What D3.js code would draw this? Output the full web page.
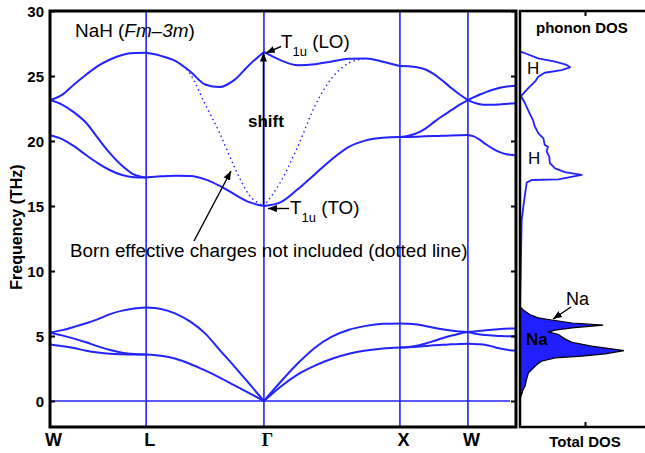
<!DOCTYPE html>
<html>
<head>
<meta charset="utf-8">
<script src="https://cdn.jsdelivr.net/npm/d3@7"></script>
<style>
  html, body { margin: 0; padding: 0; background: #fff; }
  svg { display: block; }
  text { font-family: "Liberation Sans", Arial, Helvetica, sans-serif; fill: #000; }
</style>
</head>
<body>
<svg id="chart" width="645" height="453"></svg>
<script>
// High-symmetry path W-L-Γ-X-W-K (distance along the path, units of 2π/a)
const kNames = ["W", "L", "Γ", "X", "W"];
const kTicks = [0, 0.7071, 1.5731, 2.5731, 3.0731];
const kEnd = 3.4267;
const freqTicks = [0, 5, 10, 15, 20, 25, 30];

// Fractional sampling positions along every path segment
const segT = [0, 0.125, 0.25, 0.375, 0.5, 0.625, 0.75, 0.875, 1];

// Phonon frequencies (THz) per segment, one row per branch
const bandsWL = [
  [23.15, 23.55, 24.35, 25.1, 25.78, 26.27, 26.62, 26.76, 26.78],
  [23.15, 22.8, 22.2, 21.4, 20.2, 19.05, 18.1, 17.42, 17.2],
  [20.45, 20.15, 19.6, 18.92, 18.28, 17.75, 17.38, 17.22, 17.2],
  [5.26, 5.45, 5.7, 5.98, 6.3, 6.68, 6.95, 7.12, 7.19],
  [5.26, 5.05, 4.8, 4.52, 4.2, 3.92, 3.72, 3.62, 3.58],
  [4.35, 4.22, 4.07, 3.87, 3.73, 3.64, 3.6, 3.58, 3.58]
];
const bandsLG = [
  [26.78, 26.55, 26.15, 25.35, 24.35, 24.15, 24.7, 25.85, 26.85],
  [17.2, 17.28, 17.33, 17.3, 17.05, 16.55, 15.9, 15.3, 15.0],
  [7.19, 7.08, 6.72, 6.1, 5.2, 3.92, 2.65, 1.33, 0],
  [3.58, 3.48, 3.25, 2.85, 2.35, 1.8, 1.2, 0.6, 0]
];
const bandsGX = [
  [26.85, 26.2, 25.82, 25.9, 26.12, 26.32, 26.35, 26.1, 25.77],
  [15.0, 15.3, 16.3, 17.45, 18.6, 19.55, 20.05, 20.25, 20.3],
  [0, 1.5, 2.9, 4.1, 4.95, 5.48, 5.78, 5.94, 5.97],
  [0, 1.12, 2.05, 2.72, 3.25, 3.63, 3.88, 4.04, 4.12]
];
const bandsXW = [
  [25.77, 25.75, 25.68, 25.5, 25.15, 24.65, 24.1, 23.6, 23.15],
  [20.3, 20.4, 20.6, 20.95, 21.45, 21.92, 22.35, 22.78, 23.15],
  [20.3, 20.31, 20.33, 20.36, 20.38, 20.4, 20.42, 20.44, 20.46],
  [5.97, 5.95, 5.88, 5.77, 5.64, 5.52, 5.42, 5.35, 5.3],
  [4.12, 4.15, 4.25, 4.42, 4.62, 4.83, 5.02, 5.18, 5.3],
  [4.12, 4.14, 4.18, 4.23, 4.28, 4.32, 4.36, 4.39, 4.4]
];
const bandsWK = [
  [23.15, 23.38, 23.58, 23.76, 23.92, 24.06, 24.16, 24.22, 24.25],
  [23.15, 22.95, 22.83, 22.78, 22.78, 22.8, 22.84, 22.88, 22.9],
  [20.46, 20.35, 20.08, 19.75, 19.45, 19.2, 19.03, 18.94, 18.9],
  [5.3, 5.35, 5.4, 5.44, 5.48, 5.52, 5.55, 5.57, 5.58],
  [5.3, 5.2, 5.12, 5.07, 5.03, 5.0, 4.99, 4.98, 4.98],
  [4.4, 4.39, 4.36, 4.3, 4.2, 4.08, 3.98, 3.91, 3.88]
];

// LO branch without Born effective charges (no LO-TO splitting)
const dottedLG = [null, null, 26.15, 25.15, 22.85, 20.6, 18.0, 15.85, 15.0];
const dottedGX = [15.0, 16.9, 19.6, 22.7, 24.85, 26.0, 26.35, null, null];

// Total phonon DOS (arbitrary units): H-dominated optical region
const dosHFreq = [7.3, 13.9, 14.9, 15.9, 16.8, 17.0, 17.05, 17.4, 17.6, 17.9, 18.3, 18.8,
  19.2, 19.56, 19.7, 20.2, 20.6, 21.1, 21.6, 22.1, 22.9, 23.46, 23.8, 24.18, 24.56,
  24.95, 25.25, 25.46, 25.67, 25.85, 26.1, 26.36, 26.75, 26.9];
const dosHVal = [0, 0.026, 0.05, 0.077, 0.103, 0.18, 0.59, 0.95, 0.69, 0.54, 0.46, 0.45,
  0.41, 0.43, 0.38, 0.36, 0.28, 0.23, 0.2, 0.15, 0.077, 0.015, 0.077, 0.15, 0.23,
  0.28, 0.38, 0.64, 0.77, 0.72, 0.54, 0.28, 0.077, 0];
// Na-dominated acoustic region
const dosNaFreq = [7.25, 7.0, 6.65, 6.4, 6.27, 6.0, 5.83, 5.63, 5.45, 5.32, 5.12, 4.78,
  4.52, 4.22, 3.88, 3.63, 3.45, 3.32, 3.06, 2.81, 2.42, 2.17, 1.65, 1.14, 0.88, 0.37, 0.1];
const dosNaVal = [0, 0.05, 0.15, 0.28, 0.44, 0.8, 1.28, 0.8, 0.54, 0.44, 0.59, 0.69,
  0.8, 1.1, 1.6, 1.31, 0.95, 0.54, 0.33, 0.26, 0.18, 0.13, 0.1, 0.077, 0.05, 0.015, 0];

const BLUE = "#2323ff";
const FILL = "#1f1fff";

const svg = d3.select("#chart");
const plot = { left: 50, right: 516, top: 11, bottom: 427 };
const dosPanel = { left: 520, right: 670 };

const x = d3.scaleLinear().domain([0, kEnd]).range([plot.left, plot.right]);
const y = d3.scaleLinear().domain([-2, 30]).range([plot.bottom, plot.top]);
const xd = d3.scaleLinear().domain([0, 1]).range([dosPanel.left, 585]);

// arrowhead
svg.append("defs").append("marker")
  .attr("id", "arrow").attr("viewBox", "0 0 10 8")
  .attr("refX", 10).attr("refY", 4)
  .attr("markerWidth", 9).attr("markerHeight", 7.2)
  .attr("markerUnits", "userSpaceOnUse").attr("orient", "auto")
  .append("path").attr("d", "M0,0 L10,4 L0,8 z").attr("fill", "#000");

svg.append("clipPath").attr("id", "clip").append("rect")
  .attr("x", plot.left).attr("y", plot.top)
  .attr("width", plot.right - plot.left).attr("height", plot.bottom - plot.top);

const g = svg.append("g").attr("clip-path", "url(#clip)");

// high-symmetry markers
g.selectAll("line.hs").data(kTicks.slice(1)).join("line")
  .attr("x1", d => x(d)).attr("x2", d => x(d))
  .attr("y1", plot.top).attr("y2", plot.bottom)
  .attr("stroke", BLUE).attr("stroke-width", 1.6);

// zero-frequency reference
g.append("line")
  .attr("x1", x(0)).attr("x2", x(kEnd) - 6)
  .attr("y1", y(0)).attr("y2", y(0))
  .attr("stroke", BLUE).attr("stroke-width", 1.4);

const bounds = kTicks.concat([kEnd]);
const segBands = [bandsWL, bandsLG, bandsGX, bandsXW, bandsWK];
const line = d3.line()
  .defined(d => d[1] !== null)
  .x(d => x(d[0])).y(d => y(d[1]))
  .curve(d3.curveMonotoneX);

function toPoints(seg, vals) {
  const k0 = bounds[seg], k1 = bounds[seg + 1];
  return vals.map((v, i) => [k0 + segT[i] * (k1 - k0), v]);
}

segBands.forEach((bands, s) => {
  bands.forEach(vals => {
    g.append("path")
      .attr("d", line(toPoints(s, vals)))
      .attr("fill", "none").attr("stroke", BLUE)
      .attr("stroke-width", 2).attr("stroke-linejoin", "round");
  });
});

[[1, dottedLG], [2, dottedGX]].forEach(([s, vals]) => {
  g.append("path")
    .attr("d", line(toPoints(s, vals)))
    .attr("fill", "none").attr("stroke", BLUE)
    .attr("stroke-width", 1.6).attr("stroke-linecap", "round")
    .attr("stroke-dasharray", "0.1,4.6");
});

// axes
const yAxis = svg.append("g").attr("transform", `translate(${plot.left},0)`)
  .call(d3.axisLeft(y).tickValues(freqTicks).tickSizeInner(-5).tickSizeOuter(0).tickPadding(6));
yAxis.select(".domain").remove();
yAxis.selectAll("line").attr("stroke", "#000").attr("stroke-width", 2);
yAxis.selectAll("text").attr("font-size", 15).attr("font-weight", "bold").attr("dy", "0.38em")
  .style("font-family", "'Liberation Sans', Arial, sans-serif");

const yAxisR = svg.append("g").attr("transform", `translate(${plot.right},0)`)
  .call(d3.axisRight(y).tickValues(freqTicks).tickSizeInner(-5).tickSizeOuter(0).tickFormat(""));
yAxisR.select(".domain").remove();
yAxisR.selectAll("line").attr("stroke", "#000").attr("stroke-width", 2);

const xAxis = svg.append("g").attr("transform", `translate(0,${plot.bottom})`)
  .call(d3.axisBottom(x).tickValues(kTicks).tickSize(0).tickPadding(6)
    .tickFormat((d, i) => kNames[i]));
xAxis.select(".domain").remove();
xAxis.selectAll("text")
  .attr("font-size", 18).attr("font-weight", "bold").attr("dx", 3)
  .style("font-family", (d, i) => kNames[i] === "Γ"
    ? "'Liberation Serif', 'Times New Roman', serif"
    : "'Liberation Sans', Arial, sans-serif");

svg.append("rect")
  .attr("x", plot.left).attr("y", plot.top)
  .attr("width", plot.right - plot.left).attr("height", plot.bottom - plot.top)
  .attr("fill", "none").attr("stroke", "#000").attr("stroke-width", 3);

svg.append("text")
  .attr("transform", `translate(22,${(plot.top + plot.bottom) / 2 + 8}) rotate(-90)`)
  .attr("text-anchor", "middle").attr("font-size", 16).attr("font-weight", "bold")
  .text("Frequency (THz)");

// annotations
const title = svg.append("text").attr("x", 75).attr("y", 37).attr("font-size", 18.9);
title.append("tspan").text("NaH (");
title.append("tspan").attr("font-style", "italic").text("Fm–3m");
title.append("tspan").text(")");

const xG = x(kTicks[2]);
svg.append("line")
  .attr("x1", xG - 0.5).attr("x2", xG - 0.5)
  .attr("y1", y(15.1)).attr("y2", y(26.8))
  .attr("stroke", "#000").attr("stroke-width", 1.4).attr("marker-end", "url(#arrow)");
svg.append("text").attr("x", 248).attr("y", 127).attr("font-size", 17).attr("font-weight", "bold")
  .text("shift");

function tLabel(tx, ty, mode) {
  const t = svg.append("text").attr("x", tx).attr("y", ty).attr("font-size", 18.8);
  t.append("tspan").text("T");
  t.append("tspan").attr("font-size", 13).attr("dy", 8).text("1u");
  t.append("tspan").attr("dy", -8).text(" (" + mode + ")");
}
tLabel(281, 48, "LO");
svg.append("line").attr("x1", 281).attr("y1", 46.5).attr("x2", xG + 2).attr("y2", y(26.8) + 0.5)
  .attr("stroke", "#000").attr("stroke-width", 1.4).attr("marker-end", "url(#arrow)");

tLabel(290, 214, "TO");
svg.append("line").attr("x1", 289).attr("y1", 208.5).attr("x2", xG + 4).attr("y2", 208.5)
  .attr("stroke", "#000").attr("stroke-width", 1.4).attr("marker-end", "url(#arrow)");

svg.append("text").attr("x", 70).attr("y", 257).attr("font-size", 18.8)
  .text("Born effective charges not included (dotted line)");
svg.append("line").attr("x1", 194).attr("y1", 241).attr("x2", 231).attr("y2", 171)
  .attr("stroke", "#000").attr("stroke-width", 1.4).attr("marker-end", "url(#arrow)");

// DOS panel
const dosG = svg.append("g");
dosG.append("path")
  .attr("d", d3.area()
    .y(d => y(d[0])).x0(xd(0)).x1(d => xd(d[1]))
    .curve(d3.curveLinear)(dosNaFreq.map((f, i) => [f, dosNaVal[i]])))
  .attr("fill", FILL).attr("stroke", "#000").attr("stroke-width", 1.2);
dosG.append("path")
  .attr("d", d3.line().y(d => y(d[0])).x(d => xd(d[1]))
    .curve(d3.curveLinear)(dosHFreq.map((f, i) => [f, dosHVal[i]])))
  .attr("fill", "none").attr("stroke", BLUE).attr("stroke-width", 1.8)
  .attr("stroke-linejoin", "round");

svg.append("rect")
  .attr("x", dosPanel.left).attr("y", plot.top)
  .attr("width", dosPanel.right - dosPanel.left).attr("height", plot.bottom - plot.top)
  .attr("fill", "none").attr("stroke", "#000").attr("stroke-width", 2.5);

const dTop = svg.append("g").attr("transform", `translate(0,${plot.top})`)
  .call(d3.axisTop(xd).tickValues([1]).tickSizeInner(-5).tickSizeOuter(0).tickFormat(""));
dTop.select(".domain").remove();
dTop.selectAll("line").attr("stroke", "#000").attr("stroke-width", 2);
const dBot = svg.append("g").attr("transform", `translate(0,${plot.bottom})`)
  .call(d3.axisBottom(xd).tickValues([1]).tickSizeInner(-5).tickSizeOuter(0).tickFormat(""));
dBot.select(".domain").remove();
dBot.selectAll("line").attr("stroke", "#000").attr("stroke-width", 2);

svg.append("text").attr("x", 536).attr("y", 33).attr("font-size", 15).attr("font-weight", "bold")
  .text("phonon DOS");
svg.append("text").attr("x", xd(1)).attr("y", 447).attr("text-anchor", "middle")
  .attr("font-size", 15).attr("font-weight", "bold").text("Total DOS");

svg.append("text").attr("x", 527).attr("y", 74).attr("font-size", 17).text("H");
svg.append("text").attr("x", 528).attr("y", 164).attr("font-size", 17).text("H");
svg.append("text").attr("x", 526).attr("y", 345).attr("font-size", 17).attr("font-weight", "bold").text("Na");
svg.append("text").attr("x", 566).attr("y", 305).attr("font-size", 18).text("Na");
svg.append("line").attr("x1", 571).attr("y1", 307).attr("x2", 553).attr("y2", 319)
  .attr("stroke", "#000").attr("stroke-width", 1.3).attr("marker-end", "url(#arrow)");
</script>
</body>
</html>
